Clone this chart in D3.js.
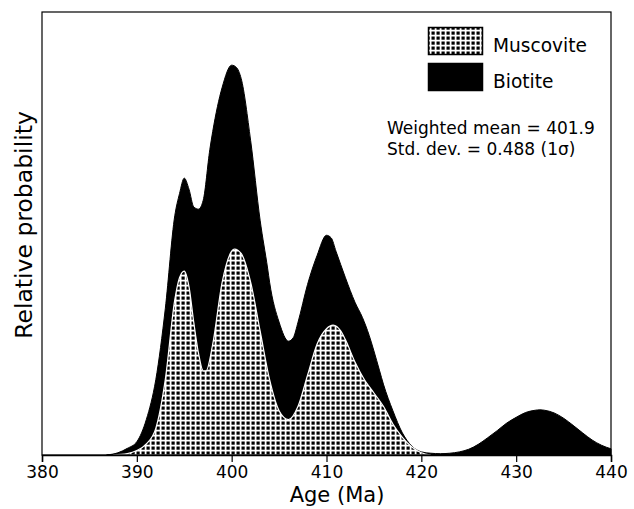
<!DOCTYPE html>
<html>
<head>
<meta charset="utf-8">
<script src="https://cdn.jsdelivr.net/npm/d3@7"></script>
<style>
  body { margin: 0; background: #fff; }
  svg { display: block; }
  text { font-family: 'DejaVu Sans', Verdana, sans-serif; fill: #000; }
</style>
</head>
<body>
<svg id="chart" width="634" height="509"></svg>
<script>
// ages (Ma) and relative probability (% of plot height)
const totalAges = [386.8, 388, 389, 390, 391, 392, 393, 394, 394.5, 395, 395.5, 396, 396.5, 397, 397.7, 398, 399, 400, 400.5, 401, 402, 403, 403.8, 404, 405, 406, 406.5, 407, 408, 409, 410, 410.5, 411, 412, 413, 413.8, 414.5, 415, 415.6, 416, 417, 418, 419, 420, 421, 422, 423, 424, 425, 426, 427, 428, 429, 430, 431, 432, 432.5, 433, 434, 435, 436, 437, 438, 439, 440];
const totalProb = [0, 0.5, 1.5, 3, 8, 17, 33, 54, 59, 62.5, 60, 56, 55.5, 57.5, 69, 73, 83, 88, 87.5, 85, 71, 53, 42, 39, 30, 25.7, 26.5, 30, 38.5, 45, 49.6, 49, 46, 40, 34.5, 31, 27, 23.5, 19, 16, 10, 5, 2, 0.7, 0.4, 0.3, 0.4, 0.7, 1.3, 2.4, 3.9, 5.5, 7.2, 8.5, 9.6, 10.1, 10.2, 10.1, 9.5, 8.3, 6.7, 5, 3.4, 2.2, 1.4];

const muscAges = [387.5, 389, 390, 391, 392, 393, 394, 394.5, 395, 395.5, 396, 396.5, 397, 397.3, 398, 399, 400, 400.3, 401, 402, 403, 404, 405, 406, 407, 408, 409, 410, 410.7, 411.5, 412, 413, 414, 415, 416, 417, 418, 419, 420, 421];
const muscProb = [0, 0.3, 1, 2.5, 6, 17, 35, 40, 41.5, 38, 30, 23, 19, 19, 25, 39, 46, 46.5, 45.5, 39, 28, 17, 10, 8, 11, 18, 25, 28.5, 29.3, 28, 26, 21, 17, 14, 11, 7, 4, 1.8, 0.5, 0];

const xTicks = [380, 390, 400, 410, 420, 430, 440];
const legendItems = ["Muscovite", "Biotite"];
const notes = ["Weighted mean = 401.9", "Std. dev. = 0.488 (1\u03c3)"];

const svg = d3.select("#chart");
const plotLeft = 42, plotRight = 611, plotTop = 12, plotBottom = 455;

const x = d3.scaleLinear().domain([380, 440]).range([plotLeft, plotRight]);
const y = d3.scaleLinear().domain([0, 100]).range([plotBottom, plotTop]);

// grid pattern for muscovite: dark cells, white lines
const defs = svg.append("defs");
const pat = defs.append("pattern")
  .attr("id", "grid")
  .attr("patternUnits", "userSpaceOnUse")
  .attr("width", 5).attr("height", 5);
pat.append("rect").attr("width", 5).attr("height", 5).attr("fill", "#fff");
pat.append("rect").attr("x", 1.5).attr("y", 1.5).attr("width", 3.2).attr("height", 3.2).attr("fill", "#000");

const area = d3.area()
  .x(d => x(d[0]))
  .y0(y(0))
  .y1(d => y(Math.max(0, d[1])))
  .curve(d3.curveMonotoneX);

svg.append("path")
  .datum(d3.zip(totalAges, totalProb))
  .attr("d", area)
  .attr("fill", "#000")
  .attr("stroke", "#000")
  .attr("stroke-width", 1);

svg.append("path")
  .datum(d3.zip(muscAges, muscProb))
  .attr("d", area)
  .attr("fill", "url(#grid)")
  .attr("stroke", "#fff")
  .attr("stroke-width", 1.2);

// frame
svg.append("rect")
  .attr("x", plotLeft).attr("y", plotTop)
  .attr("width", plotRight - plotLeft).attr("height", plotBottom - plotTop)
  .attr("fill", "none")
  .attr("stroke", "#000")
  .attr("stroke-width", 1.2);

// x axis
const xAxis = svg.append("g")
  .attr("transform", `translate(0,${plotBottom})`)
  .call(d3.axisBottom(x).tickValues(xTicks).tickSize(7).tickPadding(4).tickFormat(d3.format("d")));
xAxis.select(".domain").attr("stroke-width", 1.5);
xAxis.selectAll(".tick line").attr("stroke-width", 1.2);
xAxis.selectAll("text")
  .attr("font-family", "'DejaVu Sans', sans-serif")
  .attr("font-size", 17)
  .attr("fill", "#000");

svg.append("text")
  .attr("x", 337).attr("y", 502)
  .attr("text-anchor", "middle")
  .attr("font-size", 21)
  .text("Age (Ma)");

svg.append("text")
  .attr("transform", "translate(32,225) rotate(-90)")
  .attr("text-anchor", "middle")
  .attr("font-size", 23.5)
  .text("Relative probability");

// legend
const legend = svg.append("g");
legendItems.forEach((name, i) => {
  const yy = 27 + i * 36;
  legend.append("rect")
    .attr("x", 428.5).attr("y", yy + 0.5)
    .attr("width", 54).attr("height", 27)
    .attr("fill", i === 0 ? "url(#grid)" : "#000")
    .attr("stroke", "#000")
    .attr("stroke-width", 1.5);
  legend.append("text")
    .attr("x", 493).attr("y", yy + 25)
    .attr("font-size", 18.6)
    .text(name);
});

// statistics
notes.forEach((t, i) => {
  svg.append("text")
    .attr("x", 387).attr("y", 134 + i * 21)
    .attr("font-size", 17)
    .text(t);
});
</script>
</body>
</html>
